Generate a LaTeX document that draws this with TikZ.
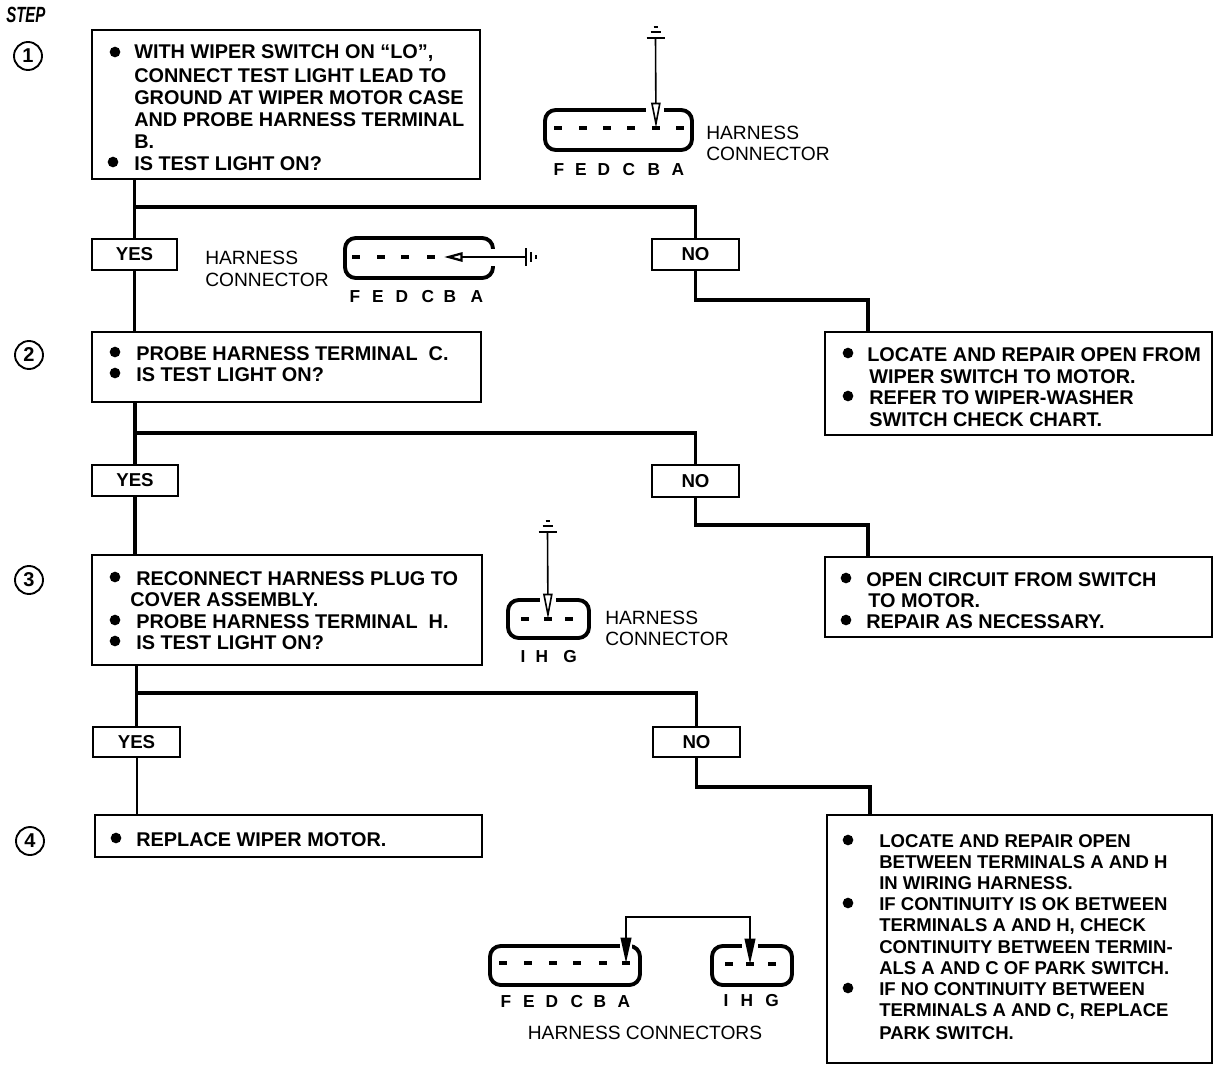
\documentclass[tikz,border=0pt]{standalone}
\usepackage{fontspec}
\setmainfont{Liberation Sans}
\usetikzlibrary{fit,arrows.meta}
\tikzset{
  x=0.75pt,y=-0.75pt,
  bx/.style={draw=black,line width=1.9pt,inner sep=0pt,fill=white},
  lbl/.style={bx,font=\bfseries\fontsize{14}{15}\selectfont},
  wire/.style={draw=black,line width=2.4pt,line join=miter},
  body/.style={anchor=west,inner sep=0pt,yshift=-1pt,font=\bfseries\fontsize{14.9}{16}\selectfont},
  small/.style={anchor=west,inner sep=0pt,yshift=-0.8pt,font=\bfseries\fontsize{13.9}{15}\selectfont},
  plain/.style={anchor=west,inner sep=0pt,yshift=-0.7pt,font=\fontsize{14.4}{16}\selectfont},
  pin/.style={inner sep=0pt,font=\bfseries\fontsize{13}{14}\selectfont},
  blt/.style={circle,fill=black,inner sep=0pt,minimum size=8pt},
  stepno/.style={circle,draw=black,line width=1.4pt,inner sep=0pt,minimum size=21pt,font=\bfseries\fontsize{15}{16}\selectfont},
  plug/.style={draw=black,line width=2.9pt,rounded corners=8pt,inner sep=0pt},
  term/.style={fill=black,inner sep=0pt,minimum width=6pt,minimum height=2.4pt},
  openprobe/.style={draw=black,line width=1.2pt,-{Triangle[open,fill=white,length=19pt,width=7pt]}},
  sideprobe/.style={draw=black,line width=1.7pt,-{Triangle[open,fill=white,length=14pt,width=7pt]}},
  solidprobe/.style={draw=black,line width=1.4pt,-{Triangle[length=19pt,width=8pt]}},
}
\newcommand{\gndv}[2]{% x y : vertical ground above a probe
  \draw[line width=1.5pt] (#1-9,#2) -- (#1+9,#2);
  \draw[line width=1.4pt] (#1-5,#2-6) -- (#1+5,#2-6);
  \draw[line width=1.4pt] (#1-2,#2-11) -- (#1+2,#2-11);
}
\begin{document}
\begin{tikzpicture}
\useasboundingbox (0,0) rectangle (1232,1072);
\fill[white] (0,0) rectangle (1232,1072);

% step heading and numbers
\node[anchor=west,inner sep=0pt,font=\bfseries\itshape\fontsize{15}{16}\selectfont] (steph) at (6,15) {\scalebox{0.75}[1.1]{STEP}};
\node[stepno] (s1) at (28,56) {1};
\node[stepno] (s2) at (29,355) {2};
\node[stepno] (s3) at (29,580) {3};
\node[stepno] (s4) at (30,841) {4};

% boxes
\node[bx,fit={(92,30) (480,179)}] (b1) {};
\node[bx,fit={(92,332) (481,402)}] (b2) {};
\node[bx,fit={(92,555) (482,665)}] (b3) {};
\node[bx,fit={(95,815) (482,857)}] (b4) {};
\node[bx,fit={(825,332) (1212,435)}] (r1) {};
\node[bx,fit={(825,557) (1212,637)}] (r2) {};
\node[bx,fit={(827,815) (1212,1063)}] (r3) {};

% yes/no boxes
\node[lbl,minimum width=63.75pt,minimum height=23.25pt] (y1) at (134.5,254.5) {YES};
\node[lbl,minimum width=65.25pt,minimum height=23.25pt] (n1) at (695.5,254.5) {NO};
\node[lbl,minimum width=64.5pt,minimum height=23.25pt] (y2) at (135,480.5) {YES};
\node[lbl,minimum width=65.25pt,minimum height=24pt] (n2) at (695.5,481) {NO};
\node[lbl,minimum width=65.25pt,minimum height=22.5pt] (y3) at (136.5,742) {YES};
\node[lbl,minimum width=65.25pt,minimum height=22.5pt] (n3) at (696.5,742) {NO};

% flow connectors
\coordinate (j1) at (134.5,207);
\coordinate (e1) at (868,300);
\draw[wire] (j1 |- b1.south) -- (y1.north);
\draw[wire] (j1) -| (n1.north);
\draw[wire] (y1.south) -- (y1.south |- b2.north);
\draw[wire] (n1.south) |- (e1) -- (e1 |- r1.north);

\coordinate (j2) at (135,433);
\coordinate (e2) at (868,525);
\draw[wire] (j2 |- b2.south) -- (y2.north);
\draw[wire] (j2) -| (n2.north);
\draw[wire] (y2.south) -- (y2.south |- b3.north);
\draw[wire] (n2.south) |- (e2) -- (e2 |- r2.north);

\coordinate (j3) at (136.5,693);
\coordinate (e3) at (870,787);
\draw[wire] (j3 |- b3.south) -- (y3.north);
\draw[wire] (j3) -| (n3.north);
\draw[wire,line width=1.5pt] (y3.south) -- (y3.south |- b4.north);
\draw[wire] (n3.south) |- (e3) -- (e3 |- r3.north);

% box 1 text
\node[blt] (d11) at (115,52) {};
\node[body] at (134,52) {WITH WIPER SWITCH ON ``LO'',};
\node[body] at (134,74) {CONNECT TEST LIGHT LEAD TO};
\node[body] at (134,96) {GROUND AT WIPER MOTOR CASE};
\node[body] at (134,118) {AND PROBE HARNESS TERMINAL};
\node[body] at (134,140) {B.};
\node[blt] (d12) at (113,162) {};
\node[body] at (134,162) {IS TEST LIGHT ON?};

% box 2 text
\node[blt] (d21) at (115,352) {};
\node[body] at (136,352) {PROBE HARNESS TERMINAL\ \ C.};
\node[blt] (d22) at (115,373) {};
\node[body] at (136,373) {IS TEST LIGHT ON?};

% box 3 text
\node[blt] (d31) at (115,577) {};
\node[body] at (136,577) {RECONNECT HARNESS PLUG TO};
\node[body] at (130,598) {COVER ASSEMBLY.};
\node[blt] (d32) at (115,620) {};
\node[body] at (136,620) {PROBE HARNESS TERMINAL\ \ H.};
\node[blt] (d33) at (115,641) {};
\node[body] at (136,641) {IS TEST LIGHT ON?};

% box 4 text
\node[blt] (d41) at (116,838) {};
\node[body] at (136,838) {REPLACE WIPER MOTOR.};

% right box 1 text
\node[blt] (e11) at (848,353) {};
\node[body] at (867,353) {LOCATE AND REPAIR OPEN FROM};
\node[body] at (869,375) {WIPER SWITCH TO MOTOR.};
\node[blt] (e12) at (848,396) {};
\node[body] at (869,396) {REFER TO WIPER-WASHER};
\node[body] at (869,418) {SWITCH CHECK CHART.};

% right box 2 text
\node[blt] (e21) at (846,578) {};
\node[body] at (866,578) {OPEN CIRCUIT FROM SWITCH};
\node[body] at (868,599) {TO MOTOR.};
\node[blt] (e22) at (846,620) {};
\node[body] at (866,620) {REPAIR AS NECESSARY.};

% right box 3 text
\node[blt] (e31) at (848,840) {};
\node[small] at (879,840) {LOCATE AND REPAIR OPEN};
\node[small] at (879,861) {BETWEEN TERMINALS A AND H};
\node[small] at (879,882) {IN WIRING HARNESS.};
\node[blt] (e32) at (848,903) {};
\node[small] at (879,903) {IF CONTINUITY IS OK BETWEEN};
\node[small] at (879,925) {TERMINALS A AND H, CHECK};
\node[small] at (879,946) {CONTINUITY BETWEEN TERMIN-};
\node[small] at (879,967) {ALS A AND C OF PARK SWITCH.};
\node[blt] (e33) at (848,988) {};
\node[small] at (879,988) {IF NO CONTINUITY BETWEEN};
\node[small] at (879,1010) {TERMINALS A AND C, REPLACE};
\node[small] at (879,1032) {PARK SWITCH.};

% connector A (step 1)
\node[plug,fit={(545,110) (692,150)}] (pa) {};
\fill[white] (646,106) rectangle (664,114);
\foreach \n/\x in {F/558,E/583,D/607,C/631,B/656,A/680} \node[term] (ta\n) at (\x,128) {};
\foreach \n/\x in {F/559,E/581,D/604,C/629,B/654,A/678} \node[pin] (la\n) at (\x,170) {\n};
\coordinate (ga) at (655.5,38);
\gndv{655.5}{38}
\draw[openprobe] (ga) -- (taB.center);
\node[plain] (ha1) at (706,132) {HARNESS};
\node[plain] (ha2) at (706,153) {CONNECTOR};

% connector B (step 2)
\node[plug,fit={(345,238) (493,278)}] (pb) {};
\fill[white] (488,249) rectangle (498,266);
\foreach \n/\x in {F/356,E/381,D/405,C/431} \node[term] (tb\n) at (\x,257) {};
\coordinate (gb) at (526,257);
\draw[line width=1.5pt] (526,248) -- (526,266);
\draw[line width=1.4pt] (531,252) -- (531,262);
\draw[line width=1.4pt] (536,255) -- (536,259);
\coordinate (tipb) at (444,257);
\draw[sideprobe] (gb) -- (tipb);
\foreach \n/\x in {F/355,E/378,D/402,C/428,B/450,A/477} \node[pin] (lb\n) at (\x,297) {\n};
\node[plain] (hb1) at (205,257) {HARNESS};
\node[plain] (hb2) at (205,279) {CONNECTOR};

% connector C (step 3)
\node[plug,fit={(508,600) (589,638)}] (pc) {};
\fill[white] (540,596) rectangle (556,604);
\foreach \n/\x in {I/525,H/548,G/569} \node[term] (tc\n) at (\x,619) {};
\foreach \n/\x in {I/523,H/542,G/570} \node[pin] (lc\n) at (\x,657) {\n};
\coordinate (gc) at (547.5,532);
\gndv{547.5}{532}
\draw[openprobe] (gc) -- (tcH.center);
\node[plain] (hc1) at (605,617) {HARNESS};
\node[plain] (hc2) at (605,638) {CONNECTOR};

% connectors D and E (bottom)
\node[plug,fit={(490,946) (640,985)}] (pd) {};
\fill[white] (620,942) rectangle (632,950);
\foreach \n/\x in {F/503,E/528,D/553,C/577,B/603,A/626} \node[term] (td\n) at (\x,963) {};
\foreach \n/\x in {F/506,E/529,D/552,C/577,B/600,A/624} \node[pin] (ld\n) at (\x,1002) {\n};
\node[plug,fit={(712,946) (792,985)}] (pe) {};
\fill[white] (742,942) rectangle (758,950);
\foreach \n/\x in {I/729,H/750,G/772} \node[term] (te\n) at (\x,964) {};
\foreach \n/\x in {I/726,H/747,G/772} \node[pin] (le\n) at (\x,1001) {\n};
\coordinate (top) at (688,917);
\draw[solidprobe] (top) -| (tdA.center);
\draw[solidprobe] (top) -| (teH.center);
\node[plain,anchor=center] (hd) at (645,1032) {HARNESS CONNECTORS};
\end{tikzpicture}
\end{document}
